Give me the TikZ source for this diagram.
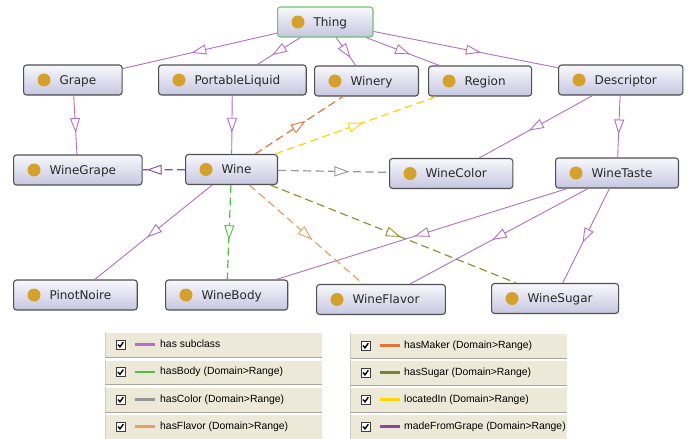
\documentclass[tikz,border=0pt]{standalone}
\usepackage{fontspec}
\setmainfont{DejaVu Sans}
\newfontfamily\legfont{Liberation Sans}
\usetikzlibrary{decorations.markings}
\definecolor{subc}{RGB}{180,110,200}
\definecolor{bodyc}{RGB}{80,190,70}
\definecolor{colorc}{RGB}{150,150,150}
\definecolor{flavorc}{RGB}{234,160,100}
\definecolor{makerc}{RGB}{226,118,58}
\definecolor{sugarc}{RGB}{140,150,50}
\definecolor{locc}{RGB}{255,212,0}
\definecolor{grapec}{RGB}{140,70,170}
\definecolor{nodetop}{RGB}{248,248,252}
\definecolor{nodebot}{RGB}{198,198,224}
\definecolor{nodeedge}{RGB}{80,80,80}
\definecolor{thingedge}{RGB}{110,196,110}
\definecolor{dotc}{RGB}{212,162,44}
\definecolor{nodetext}{RGB}{40,40,40}
\definecolor{legbg}{RGB}{236,233,216}
\definecolor{legedge}{RGB}{172,168,153}
\definecolor{boxedge}{RGB}{60,60,60}
\newcommand\clsname[1]{\hspace*{21pt}#1\hspace*{11pt}}
\newcommand\linkab[4]{%
  \draw[#1, draw=#2] (#3) -- (#4);
  \path[postaction={decorate}, decoration={markings, mark=at position 0.5 with {\draw[draw=#2, solid, line width=0.9pt, fill=white, line join=miter] (6.5pt,0pt) -- (-6.5pt,4.5pt) -- (-6.5pt,-4.5pt) -- cycle;}}] (#3.center) -- (#4.center);}
\newcommand\legrow[5]{% x-left, x-right, y-top, y-bottom, name
  \fill[legbg] (#1,#3) rectangle (#2,#4);
  \draw[legedge, line width=0.8pt] (#1,#4) -- (#2,#4);
  \draw[white, line width=0.8pt] (#1,#3) -- (#2,#3);
  \draw[legedge!60, line width=0.6pt] (#1,#3) -- (#1,#4);
}
\newcommand\legitem[4]{% x-left, y-center, colour, name/text
  \filldraw[fill=white, draw=boxedge, line width=0.8pt] (#1+11,#2-4.5) rectangle (#1+20,#2+4.5);
  \draw[black, line width=1.4pt, line join=miter] (#1+13,#2) -- (#1+15,#2+2.3) -- (#1+18.3,#2-2.3);
  \draw[#3, line width=2.5pt] (#1+30,#2) -- (#1+50,#2);
}
\begin{document}
\begin{tikzpicture}[x=1pt,y=-1pt,
  cls/.style={draw=nodeedge, line width=1.1pt, rounded corners=3pt,
    top color=nodetop, bottom color=nodebot, minimum height=30pt,
    inner xsep=15pt, inner ysep=0pt, text height=10pt, text depth=1.2pt,
    anchor=west, font=\fontsize{12}{14}\selectfont, text=nodetext},
  subline/.style={line width=0.9pt},
  propline/.style={line width=1.2pt, dash pattern=on 8pt off 4.5pt},
  legtext/.style={anchor=mid west, inner sep=0pt, font=\legfont\fontsize{10.4}{12}\selectfont, text=black}]
\useasboundingbox (0,0) rectangle (691,439);
\fill[white] (0,0) rectangle (691,439);

% classes
\node[cls, draw=thingedge] (thing) at (277,22) {\clsname{Thing}};
\node[cls] (grape) at (23,80) {\clsname{Grape}};
\node[cls] (pliq) at (158,80) {\clsname{PortableLiquid}};
\node[cls] (winery) at (314,81) {\clsname{Winery}};
\node[cls] (region) at (428,81) {\clsname{Region}};
\node[cls] (descr) at (558,80) {\clsname{Descriptor}};
\node[cls] (wgrape) at (13,170) {\clsname{WineGrape}};
\node[cls] (wine) at (185,169.5) {\clsname{Wine}};
\node[cls] (wcolor) at (389,173.5) {\clsname{WineColor}};
\node[cls] (wtaste) at (555,173) {\clsname{WineTaste}};
\node[cls] (pinot) at (13,295) {\clsname{PinotNoire}};
\node[cls] (wbody) at (165,295) {\clsname{WineBody}};
\node[cls] (wflavor) at (316,299.5) {\clsname{WineFlavor}};
\node[cls] (wsugar) at (491,298.5) {\clsname{WineSugar}};
\foreach \n in {thing,grape,pliq,winery,region,descr,wgrape,wine,wcolor,wtaste,pinot,wbody,wflavor,wsugar}
  \fill[dotc] ([xshift=21pt]\n.west) circle (6.5pt);

% subclass edges
\linkab{subline}{subc}{thing}{grape}
\linkab{subline}{subc}{thing}{pliq}
\linkab{subline}{subc}{thing}{winery}
\linkab{subline}{subc}{thing}{region}
\linkab{subline}{subc}{thing}{descr}
\linkab{subline}{subc}{grape}{wgrape}
\linkab{subline}{subc}{pliq}{wine}
\linkab{subline}{subc}{descr}{wcolor}
\linkab{subline}{subc}{descr}{wtaste}
\linkab{subline}{subc}{wine}{pinot}
\linkab{subline}{subc}{wtaste}{wbody}
\linkab{subline}{subc}{wtaste}{wflavor}
\linkab{subline}{subc}{wtaste}{wsugar}

% property edges
\linkab{propline}{makerc}{wine}{winery}
\linkab{propline}{locc}{wine}{region}
\linkab{propline}{grapec}{wine}{wgrape}
\linkab{propline}{colorc}{wine}{wcolor}
\linkab{propline}{bodyc}{wine}{wbody}
\linkab{propline}{flavorc}{wine}{wflavor}
\linkab{propline}{sugarc}{wine}{wsugar}

% legend
\legrow{105}{322}{332}{357}{}
\legrow{105}{322}{360}{384}{}
\legrow{105}{322}{387}{412}{}
\legrow{105}{322}{414}{440}{}
\legrow{350}{567}{333}{358}{}
\legrow{350}{567}{360}{385}{}
\legrow{350}{567}{387}{412}{}
\legrow{350}{567}{414}{440}{}
\legitem{105}{344.5}{subc}{}
\legitem{105}{372}{bodyc}{}
\legitem{105}{399.5}{colorc}{}
\legitem{105}{426.5}{flavorc}{}
\legitem{350}{345.5}{makerc}{}
\legitem{350}{372.5}{sugarc!85!black}{}
\legitem{350}{399.5}{locc}{}
\legitem{350}{426.5}{grapec}{}
\node[legtext] (lsub) at (160,344.5) {has subclass};
\node[legtext] (lbody) at (160,372) {hasBody (Domain>Range)};
\node[legtext] (lcolor) at (160,399.5) {hasColor (Domain>Range)};
\node[legtext] (lflavor) at (160,426.5) {hasFlavor (Domain>Range)};
\node[legtext] (lmaker) at (404,345.5) {hasMaker (Domain>Range)};
\node[legtext] (lsugar) at (404,372.5) {hasSugar (Domain>Range)};
\node[legtext] (lloc) at (404,399.5) {locatedIn (Domain>Range)};
\node[legtext] (lgrape) at (404,426.5) {madeFromGrape (Domain>Range)};
\end{tikzpicture}
\end{document}
